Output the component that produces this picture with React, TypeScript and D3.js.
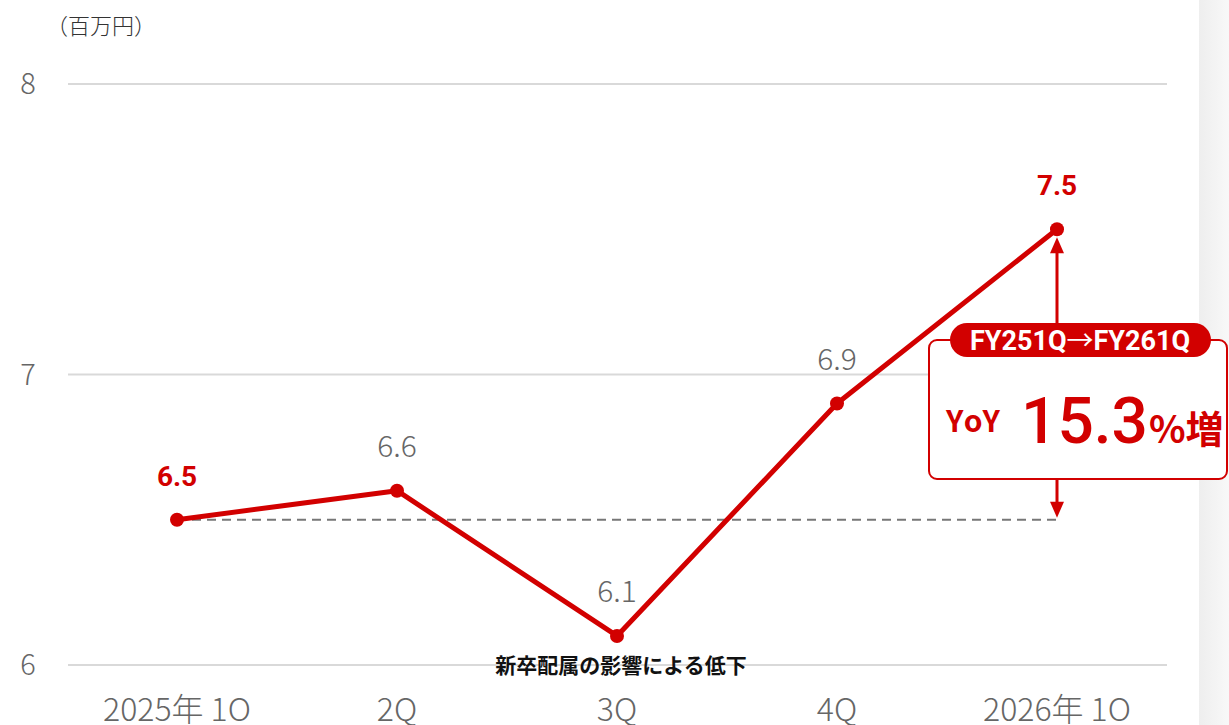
import React from "react";
import * as d3 from "d3";

const categories = ["2025年 1O", "2Q", "3Q", "4Q", "2026年 1O"];
const values = [6.5, 6.6, 6.1, 6.9, 7.5];
const highlight = [true, false, false, false, true];
const yTicks = [6, 7, 8];
const unitLabel = "（百万円）";
const noteText = "新卒配属の影響による低下";
const pillLeft = "FY251Q";
const pillRight = "FY261Q";
const yoyValue = "15.3";

const RED = "#d20000";
const W = 1229;
const H = 725;

export default function App() {
  const x = d3.scalePoint<string>().domain(categories).range([177, 1057]);
  const y = d3.scaleLinear().domain([6, 8]).range([665, 84]);
  const line = d3
    .line<number>()
    .x((_, i) => x(categories[i]) as number)
    .y((d) => y(d));
  const fx = (i: number) => x(categories[i]) as number;
  const lastX = fx(4);
  const baseY = y(values[0]);
  const topY = y(values[4]);
  const font = "'Noto Sans CJK JP', 'Noto Sans', sans-serif";
  const rob = "Roboto, 'Noto Sans', sans-serif";

  return (
    <svg
      width={W}
      height={H}
      style={{ position: "absolute", left: 0, top: 0, background: "#fff" }}
    >
      <defs>
        <linearGradient id="edge" x1="0" x2="1" y1="0" y2="0">
          <stop offset="0" stopColor="#eeeeee" />
          <stop offset="1" stopColor="#f8f8f8" />
        </linearGradient>
      </defs>
      <rect x={1199} y={0} width={30} height={H} fill="url(#edge)" />
      <text x={46} y={34} fontSize={22} fill="#333" fontFamily={font} fontWeight={300}>
        {unitLabel}
      </text>
      {yTicks.map((t) => (
        <g key={t}>
          <line x1={68} x2={1167} y1={y(t)} y2={y(t)} stroke="#d9d9d9" strokeWidth={2} />
          <text
            x={28}
            y={y(t) + 10}
            textAnchor="middle"
            fontSize={29}
            fill="#666"
            fontFamily={font}
            fontWeight={300}
          >
            {t}
          </text>
        </g>
      ))}
      {categories.map((c) => (
        <text
          key={c}
          x={x(c) as number}
          y={721}
          textAnchor="middle"
          fontSize={32}
          fill="#666"
          fontFamily={font}
          fontWeight={300}
        >
          {c}
        </text>
      ))}
      {/* dashed baseline */}
      <line
        x1={fx(0)}
        x2={lastX}
        y1={baseY}
        y2={baseY}
        stroke="#777"
        strokeWidth={2}
        strokeDasharray="9 6"
      />
      {/* vertical arrow */}
      <line x1={lastX} x2={lastX} y1={topY + 14} y2={baseY - 12} stroke={RED} strokeWidth={3} />
      <path
        d={`M${lastX},${topY + 8} L${lastX - 7},${topY + 24} L${lastX + 7},${topY + 24} Z`}
        fill={RED}
      />
      <path
        d={`M${lastX},${baseY - 2} L${lastX - 7},${baseY - 18} L${lastX + 7},${baseY - 18} Z`}
        fill={RED}
      />
      {/* main line */}
      <path
        d={line(values) || ""}
        fill="none"
        stroke={RED}
        strokeWidth={5}
        strokeLinejoin="round"
      />
      {values.map((v, i) => (
        <circle key={i} cx={fx(i)} cy={y(v)} r={7} fill={RED} />
      ))}
      {values.map((v, i) => (
        <text
          key={"l" + i}
          x={fx(i)}
          y={y(v) - 34}
          textAnchor="middle"
          fontSize={highlight[i] ? 28 : 30}
          fill={highlight[i] ? RED : "#666"}
          fontWeight={highlight[i] ? 700 : 300}
          fontFamily={highlight[i] ? rob : font}
        >
          {v.toFixed(1)}
        </text>
      ))}
      <text
        x={621}
        y={673}
        textAnchor="middle"
        fontSize={21}
        fontWeight={700}
        fill="#111"
        fontFamily={font}
      >
        {noteText}
      </text>
      {/* callout box */}
      <rect
        x={929}
        y={340}
        width={298}
        height={139}
        rx={8}
        fill="#fff"
        stroke={RED}
        strokeWidth={2}
      />
      <rect x={950} y={323} width={261} height={34} rx={17} fill={RED} />
      <text
        x={1080}
        y={350}
        textAnchor="middle"
        fontSize={27}
        fontWeight={700}
        fill="#fff"
        fontFamily={rob}
      >
        {pillLeft}
        <tspan fontFamily={font} fontWeight={400}>
          →
        </tspan>
        {pillRight}
      </text>
      <text
        x={946}
        y={432}
        fontSize={30}
        fontWeight={700}
        fill={RED}
        fontFamily={font}
        letterSpacing={2}
      >
        YoY
      </text>
      <text x={1021} y={443} fontSize={64} fontWeight={500} fill={RED} fontFamily={rob}>
        {yoyValue}
        <tspan fontSize={38} fontWeight={700} fontFamily={font} dx={1}>
          %増
        </tspan>
      </text>
    </svg>
  );
}
